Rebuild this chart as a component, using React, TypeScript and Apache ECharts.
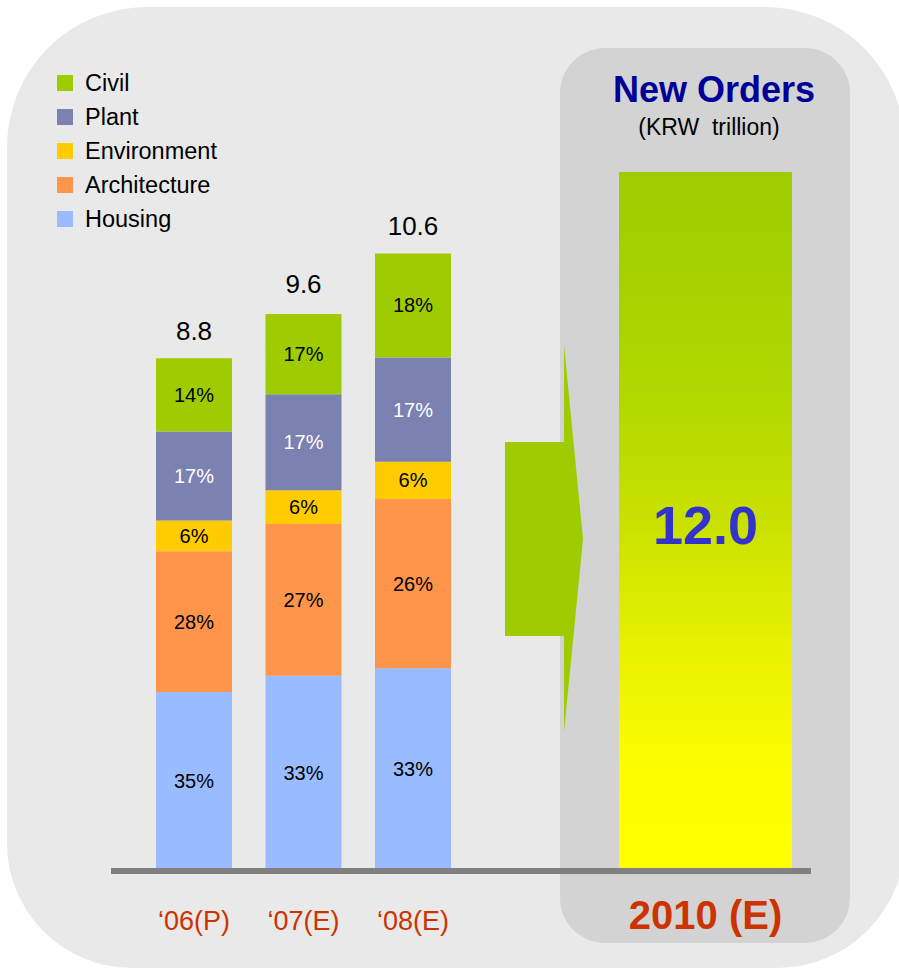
import React, { useEffect, useRef } from "react";
import * as echarts from "echarts";

// ---- Data ----
const categories = ["\u201806(P)", "\u201807(E)", "\u201808(E)"];
const totals = [8.8, 9.6, 10.6];
const housing = [3.06, 3.34, 3.47];
const architecture = [2.42, 2.61, 2.91];
const environment = [0.53, 0.58, 0.64];
const plant = [1.53, 1.65, 1.79];
const civil = [1.26, 1.38, 1.79];
const housingPct = ["35%", "33%", "33%"];
const architecturePct = ["28%", "27%", "26%"];
const environmentPct = ["6%", "6%", "6%"];
const plantPct = ["17%", "17%", "17%"];
const civilPct = ["14%", "17%", "18%"];
const forecastCategory = ["2010 (E)"];
const forecast = [12.0];
const legendOrder = ["Civil", "Plant", "Environment", "Architecture", "Housing"];

const FONT = "'Liberation Sans', Arial, Helvetica, sans-serif";

export default function App() {
  const ref = useRef<HTMLDivElement>(null);

  useEffect(() => {
    if (!ref.current) return;
    const chart = echarts.init(ref.current, null, { renderer: "svg" });

    const seg = (
      name: string,
      data: number[],
      labels: string[],
      color: string,
      textColor: string
    ) => ({
      name,
      type: "bar",
      stack: "total",
      xAxisIndex: 0,
      yAxisIndex: 0,
      barWidth: 76,
      data,
      itemStyle: { color },
      label: {
        show: true,
        position: "inside",
        fontFamily: FONT,
        fontSize: 20,
        color: textColor,
        formatter: (p: any) => labels[p.dataIndex],
      },
    });

    const option: any = {
      animation: false,
      backgroundColor: "#ffffff",
      textStyle: { fontFamily: FONT },
      legend: {
        orient: "vertical",
        left: 52,
        top: 66,
        itemWidth: 16,
        itemHeight: 16,
        itemGap: 10,
        icon: "rect",
        data: legendOrder,
        textStyle: {
          fontFamily: FONT,
          fontSize: 23.5,
          color: "#000000",
          padding: [0, 0, 0, 7],
        },
        selectedMode: false,
      },
      grid: [
        { left: 139.25, width: 328.5, top: 172, height: 698 },
        { left: 619, width: 173, top: 172, height: 698 },
      ],
      xAxis: [
        {
          type: "category",
          gridIndex: 0,
          data: categories,
          axisLine: { show: false },
          axisTick: { show: false },
          axisLabel: {
            fontFamily: FONT,
            fontSize: 27,
            color: "#cc3300",
            margin: 37,
          },
        },
        {
          type: "category",
          gridIndex: 1,
          data: forecastCategory,
          axisLine: { show: false },
          axisTick: { show: false },
          axisLabel: {
            fontFamily: FONT,
            fontSize: 40,
            fontWeight: "bold",
            color: "#cc3300",
            margin: 25,
          },
        },
      ],
      yAxis: [
        { type: "value", gridIndex: 0, min: 0, max: 12, show: false },
        { type: "value", gridIndex: 1, min: 0, max: 12, show: false },
      ],
      series: [
        seg("Housing", housing, housingPct, "#99bbff", "#000000"),
        seg("Architecture", architecture, architecturePct, "#ff944b", "#000000"),
        seg("Environment", environment, environmentPct, "#ffcc00", "#000000"),
        seg("Plant", plant, plantPct, "#7b81b0", "#ffffff"),
        seg("Civil", civil, civilPct, "#9ecc00", "#000000"),
        {
          name: "Total",
          type: "scatter",
          xAxisIndex: 0,
          yAxisIndex: 0,
          data: totals,
          symbol: "rect",
          symbolSize: 1,
          itemStyle: { color: "rgba(0,0,0,0)", opacity: 1 },
          label: {
            show: true,
            position: "top",
            distance: 14,
            fontFamily: FONT,
            fontSize: 26,
            color: "#000000",
            opacity: 1,
            formatter: (p: any) => totals[p.dataIndex].toFixed(1),
          },
          z: 5,
        },
        {
          name: "New Orders",
          type: "bar",
          xAxisIndex: 1,
          yAxisIndex: 1,
          barWidth: 173,
          data: forecast,
          itemStyle: {
            color: new echarts.graphic.LinearGradient(0, 0, 0, 1, [
              { offset: 0, color: "#9ecc00" },
              { offset: 0.33, color: "#b2d800" },
              { offset: 0.5, color: "#c9e100" },
              { offset: 0.67, color: "#e6f000" },
              { offset: 0.86, color: "#fcfd00" },
              { offset: 1, color: "#ffff00" },
            ]),
          },
          label: {
            show: true,
            position: "inside",
            offset: [0, 4],
            fontFamily: FONT,
            fontSize: 54,
            fontWeight: "bold",
            color: "#3333cc",
            formatter: (p: any) => forecast[p.dataIndex].toFixed(1),
          },
        },
      ],
      graphic: [
        {
          type: "rect",
          z: -10,
          silent: true,
          shape: { x: 7, y: 7, width: 898, height: 961, r: [140, 140, 128, 125] },
          style: { fill: "#e9e9e9" },
        },
        {
          type: "rect",
          z: -9,
          silent: true,
          shape: { x: 560, y: 48, width: 290, height: 895, r: 45 },
          style: { fill: "#d3d3d3" },
        },
        {
          type: "polygon",
          z: 1,
          silent: true,
          shape: {
            points: [
              [505, 442],
              [564, 442],
              [564, 345],
              [583, 539],
              [564, 732],
              [564, 636],
              [505, 636],
            ],
          },
          style: { fill: "#9ecc00" },
        },
        {
          type: "line",
          z: 100,
          silent: true,
          shape: { x1: 111, y1: 871, x2: 811, y2: 871 },
          style: { stroke: "#808080", lineWidth: 6 },
        },
        {
          type: "text",
          z: 100,
          x: 714,
          y: 89,
          style: {
            text: "New Orders",
            fontFamily: FONT,
            fontSize: 36,
            fontWeight: "bold",
            fill: "#000099",
            align: "center",
            verticalAlign: "middle",
          },
        },
        {
          type: "text",
          z: 100,
          x: 709,
          y: 127,
          style: {
            text: "(KRW  trillion)",
            fontFamily: FONT,
            fontSize: 23,
            fill: "#000000",
            align: "center",
            verticalAlign: "middle",
          },
        },
      ],
    };

    chart.setOption(option);
    return () => chart.dispose();
  }, []);

  return (
    <div
      ref={ref}
      style={{ position: "fixed", left: 0, top: 0, width: 899, height: 969 }}
    />
  );
}
